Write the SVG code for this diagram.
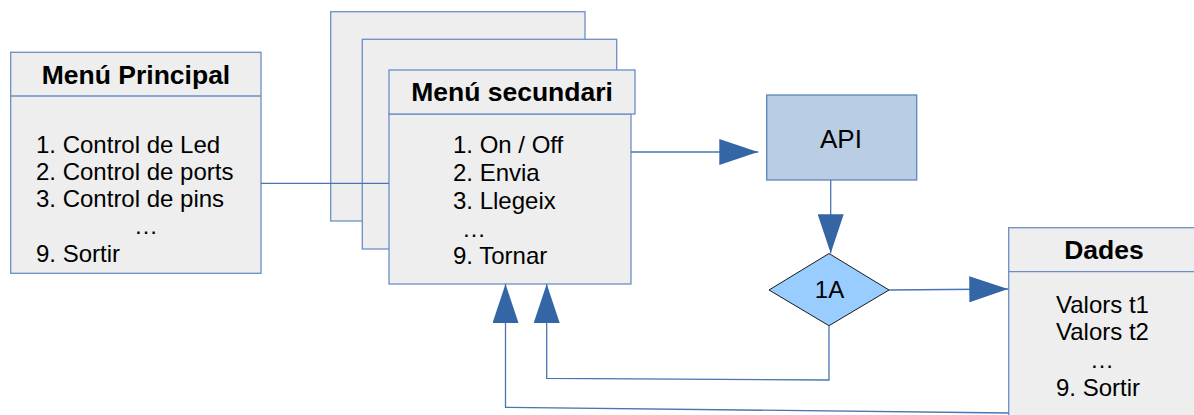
<svg xmlns="http://www.w3.org/2000/svg" width="1194" height="415" viewBox="0 0 1194 415">
  <style>
    .box { fill: #eeeeee; stroke: #6a8fc6; stroke-width: 1.3; }
    .api { fill: #b9cde5; stroke: #5d84bf; stroke-width: 1.3; }
    .dec { fill: #99ccff; stroke: #1a1a1a; stroke-width: 1; }
    .title { font-family: "Liberation Sans", Arial, sans-serif; font-weight: bold; font-size: 26.5px; fill: #000; text-anchor: middle; }
    .item { font-family: "Liberation Sans", Arial, sans-serif; font-size: 24px; fill: #000; }
    .mid { text-anchor: middle; }
    .conn { fill: none; stroke: #4a74b3; stroke-width: 1.3; }
  </style>
  <defs>
    <marker id="arrow" viewBox="0 0 39 26" refX="39" refY="13" markerWidth="39" markerHeight="26" markerUnits="userSpaceOnUse" orient="auto">
      <path d="M0,0 L39,13 L0,26 z" fill="#3465a4"/>
    </marker>
  </defs>
  <rect width="1194" height="415" fill="#ffffff"/>

  <!-- main menu -->
  <g id="menu-principal">
    <rect class="box" x="10.7" y="52.3" width="250.3" height="221"/>
    <line class="box" x1="10.7" y1="96" x2="261" y2="96"/>
    <text class="title" x="136" y="84">Menú Principal</text>
    <text class="item" x="36" y="152.7">1. Control de Led</text>
    <text class="item" x="36" y="179.5">2. Control de ports</text>
    <text class="item" x="36" y="206.7">3. Control de pins</text>
    <text class="item" x="134" y="234">…</text>
    <text class="item" x="36" y="261.7">9. Sortir</text>
  </g>

  <!-- stacked secondary menus -->
  <g id="menu-secundari-3">
    <rect class="box" x="330.7" y="11.7" width="254.3" height="209.3"/>
  </g>
  <g id="menu-secundari-2">
    <rect class="box" x="362.3" y="39.3" width="254.4" height="209.7"/>
  </g>
  <g id="menu-secundari">
    <rect class="box" x="389" y="114" width="242" height="170"/>
    <rect class="box" x="389" y="70" width="246" height="44"/>
    <text class="title" x="512" y="101">Menú secundari</text>
    <text class="item" x="453" y="153.3">1. On / Off</text>
    <text class="item" x="453" y="181">2. Envia</text>
    <text class="item" x="453" y="208.7">3. Llegeix</text>
    <text class="item" x="462" y="236.7">…</text>
    <text class="item" x="453" y="264.3">9. Tornar</text>
  </g>

  <g id="api">
    <rect class="api" x="766.7" y="95" width="150" height="85"/>
    <text class="item mid" x="841" y="148" style="font-size:26px">API</text>
  </g>

  <g id="decisio-1a">
    <path class="dec" d="M829,253.5 L889,290 L829,325.7 L769,290 z"/>
    <text class="item mid" x="829.5" y="298.3">1A</text>
  </g>

  <g id="dades">
    <rect class="box" x="1008.7" y="227.7" width="200" height="200"/>
    <line class="box" x1="1008.7" y1="271.7" x2="1194" y2="271.7"/>
    <text class="title" x="1104" y="259.3">Dades</text>
    <text class="item" x="1056" y="313.3">Valors t1</text>
    <text class="item" x="1056" y="340.3">Valors t2</text>
    <text class="item" x="1090" y="368">…</text>
    <text class="item" x="1056" y="395.7">9. Sortir</text>
  </g>

  <!-- connectors -->
  <g id="connectors">
    <path class="conn" d="M261,183.3 H389"/>
    <path class="conn" d="M631,152 H758.3" marker-end="url(#arrow)"/>
    <path class="conn" d="M830.7,180 V253.3" marker-end="url(#arrow)"/>
    <path class="conn" d="M889,290 L1008.3,289" marker-end="url(#arrow)"/>
    <path class="conn" d="M829,325.7 V380 L546.7,378.3 V284" marker-end="url(#arrow)"/>
    <path class="conn" d="M1008.7,413 L505.5,407.3 V284" marker-end="url(#arrow)"/>
  </g>
</svg>
